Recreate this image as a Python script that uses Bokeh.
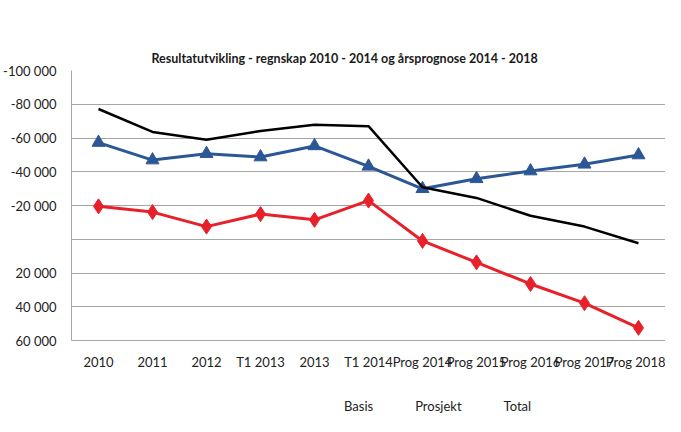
from bokeh.plotting import figure
from bokeh.layouts import column
from bokeh.models import Range1d, FixedTicker, Title, Legend, LegendItem
from bokeh.embed import file_html
from bokeh.resources import INLINE

categories = ["2010", "2011", "2012", "T1 2013", "2013", "T1 2014",
              "Prog 2014", "Prog 2015", "Prog 2016", "Prog 2017", "Prog 2018"]
basis = [-19500, -16100, -7500, -14900, -11500, -22900, 1000, 13700, 26500, 37900, 52500]
prosjekt = [-57300, -46900, -50700, -48700, -55300, -43200, -29900, -35800, -40400, -44400, -49900]
total = [-77200, -63600, -58900, -64200, -67800, -67000, -30800, -24500, -13900, -7500, 2400]
y_ticks = [-100000, -80000, -60000, -40000, -20000, 0, 20000, 40000, 60000]
y_tick_labels = ["-100 000", "-80 000", "-60 000", "-40 000", "-20 000", "", "20 000", "40 000", "60 000"]
series_names = ["Basis", "Prosjekt", "Total"]
title_text = "Resultatutvikling  -  regnskap 2010 - 2014 og årsprognose 2014 - 2018"

FONT = "Lato"
RED = "#e8202a"
BLUE = "#2b5797"
GRID = "#a6a6a6"

p = figure(width=665, height=390, x_range=categories,
           y_range=Range1d(start=60000, end=-100000),
           output_backend="svg", toolbar_location=None,
           min_border_left=69, min_border_right=0, min_border_top=70, min_border_bottom=50,
           outline_line_color=None, background_fill_color="white", border_fill_color="white")

t = Title(text=title_text, align="left", offset=80,
          text_font=FONT, text_font_size="12.5px", text_font_style="bold", text_color="#1a1a1a")
p.add_layout(t, "above")

p.yaxis.ticker = FixedTicker(ticks=y_ticks)
p.yaxis.major_label_overrides = {tv: lab for tv, lab in zip(y_ticks, y_tick_labels)}
p.yaxis.major_label_text_font = FONT
p.yaxis.major_label_text_font_size = "13px"
p.yaxis.major_label_text_color = "#222222"
p.yaxis.major_tick_line_color = None
p.yaxis.minor_tick_line_color = None
p.yaxis.axis_line_color = GRID
p.yaxis.major_label_standoff = 9

p.xaxis.major_label_text_font = FONT
p.xaxis.major_label_text_font_size = "13px"
p.xaxis.major_label_text_color = "#222222"
p.xaxis.major_tick_line_color = None
p.xaxis.axis_line_color = GRID
p.xaxis.major_label_standoff = 7

p.xgrid.grid_line_color = None
p.ygrid.grid_line_color = GRID
p.ygrid.grid_line_width = 1

p.line(categories, basis, line_color=RED, line_width=3)
p.scatter(categories, basis, marker="diamond", size=15, fill_color=RED, line_color=RED)
p.line(categories, prosjekt, line_color=BLUE, line_width=3)
p.scatter(categories, prosjekt, marker="triangle", size=13, fill_color=BLUE, line_color=BLUE)
p.line(categories, total, line_color="black", line_width=2.5)

# Legend strip below the chart
lg = figure(width=665, height=26, x_range=Range1d(0, 1), y_range=Range1d(0, 1),
            output_backend="svg", toolbar_location=None,
            min_border_left=0, min_border_right=0, min_border_top=0, min_border_bottom=0,
            outline_line_color=None, background_fill_color="white", border_fill_color="white")
lg.axis.visible = False
lg.grid.visible = False
l1 = lg.line([], [], line_color=RED, line_width=3)
l1m = lg.scatter([], [], marker="diamond", size=12, fill_color=RED, line_color=RED)
l2 = lg.line([], [], line_color=BLUE, line_width=3)
l2m = lg.scatter([], [], marker="triangle", size=11, fill_color=BLUE, line_color=BLUE)
l3 = lg.line([], [], line_color="black", line_width=2.5)

legend = Legend(items=[LegendItem(label=series_names[0], renderers=[l1, l1m]),
                       LegendItem(label=series_names[1], renderers=[l2, l2m]),
                       LegendItem(label=series_names[2], renderers=[l3])],
                orientation="horizontal", location=(241, 2),
                label_text_font=FONT, label_text_font_size="13px", label_text_color="#222222",
                glyph_width=28, glyph_height=14, spacing=10, label_standoff=4,
                padding=2, margin=0, border_line_color=None, background_fill_alpha=0)
lg.add_layout(legend, "center")

layout = column(p, lg, spacing=0)

open("out.html", "w").write(file_html(layout, INLINE))
